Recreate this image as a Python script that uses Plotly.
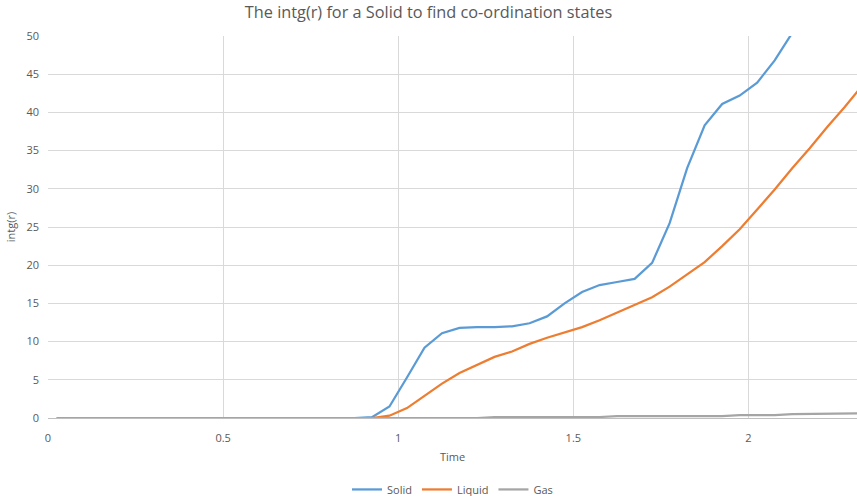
import plotly.graph_objects as go

time = [0.025, 0.075, 0.125, 0.175, 0.225, 0.275, 0.325, 0.375, 0.425, 0.475,
        0.525, 0.575, 0.625, 0.675, 0.725, 0.775, 0.825, 0.875, 0.925, 0.975,
        1.025, 1.075, 1.125, 1.175, 1.225, 1.275, 1.325, 1.375, 1.425, 1.475,
        1.525, 1.575, 1.625, 1.675, 1.725, 1.775, 1.825, 1.875, 1.925, 1.975,
        2.025, 2.075, 2.125, 2.175, 2.225, 2.275, 2.325]

solid = [0, 0, 0, 0, 0, 0, 0, 0, 0, 0,
         0, 0, 0, 0, 0, 0, 0, 0, 0.1, 1.5,
         5.3, 9.2, 11.1, 11.8, 11.9, 11.9, 12.0, 12.4, 13.3, 15.0,
         16.5, 17.4, 17.8, 18.2, 20.3, 25.5, 32.7, 38.3, 41.1, 42.2,
         43.9, 46.8, 50.4, 54.5, 58.0, 61.5, 65.0]

liquid = [0, 0, 0, 0, 0, 0, 0, 0, 0, 0,
          0, 0, 0, 0, 0, 0, 0, 0, 0, 0.3,
          1.3, 2.9, 4.5, 5.9, 7.0, 8.0, 8.7, 9.7, 10.5, 11.2,
          11.9, 12.8, 13.8, 14.7, 15.8, 17.2, 18.8, 20.4, 22.5, 24.7,
          27.3, 29.9, 32.7, 35.3, 38.1, 40.7, 43.5]

gas = [0, 0, 0, 0, 0, 0, 0, 0, 0, 0,
       0, 0, 0, 0, 0, 0, 0, 0, 0, 0,
       0, 0, 0, 0, 0, 0.13, 0.13, 0.13, 0.13, 0.13,
       0.13, 0.13, 0.26, 0.26, 0.26, 0.26, 0.26, 0.26, 0.26, 0.39,
       0.39, 0.39, 0.5, 0.5, 0.5, 0.5, 0.6]

series = [("Solid", solid, "#5B9BD5"), ("Liquid", liquid, "#ED7D31"), ("Gas", gas, "#A5A5A5")]

fig = go.Figure()
for name, vals, col in series:
    fig.add_trace(go.Scatter(x=time, y=vals, name=name, mode="lines",
                             line=dict(color=col, width=2.25)))

font = "Open Sans"
grey = "#595959"
fig.update_layout(
    width=857, height=496,
    paper_bgcolor="white", plot_bgcolor="white",
    margin=dict(l=48, r=0, t=36, b=78, autoexpand=False),
    title=dict(text="The intg(r) for a Solid to find co-ordination states",
               x=0.5, xanchor="center", y=0.976, yanchor="middle",
               font=dict(family=font, size=16.3, color=grey)),
    xaxis=dict(range=[0, 2.31], tickvals=[0, 0.5, 1, 1.5, 2],
               ticktext=["0", "0.5", "1", "1.5", "2"], automargin=False,
               showgrid=True, gridcolor="#D9D9D9", gridwidth=1,
               zeroline=False, showline=True, linecolor="#BFBFBF", linewidth=1,
               ticks="", ticklabelstandoff=10,
               tickfont=dict(family=font, size=11, color=grey),
               title=dict(text="Time", font=dict(family=font, size=11, color=grey),
                          standoff=9)),
    yaxis=dict(range=[0, 50], dtick=5, showgrid=True, gridcolor="#D9D9D9", gridwidth=1,
               zeroline=False, showline=False, ticks="", automargin=False,
               ticklabelstandoff=8,
               tickfont=dict(family=font, size=11, color=grey),
               title=dict(text="intg(r)", font=dict(family=font, size=11, color=grey),
                          standoff=8)),
    legend=dict(orientation="h", x=0.5, xanchor="center", y=-0.187, yanchor="middle",
                font=dict(family=font, size=11, color=grey)),
    showlegend=True,
)

fig.write_html("out.html", config={"displayModeBar": False},
               post_script="document.body.style.margin='0';document.body.style.overflow='hidden';")
